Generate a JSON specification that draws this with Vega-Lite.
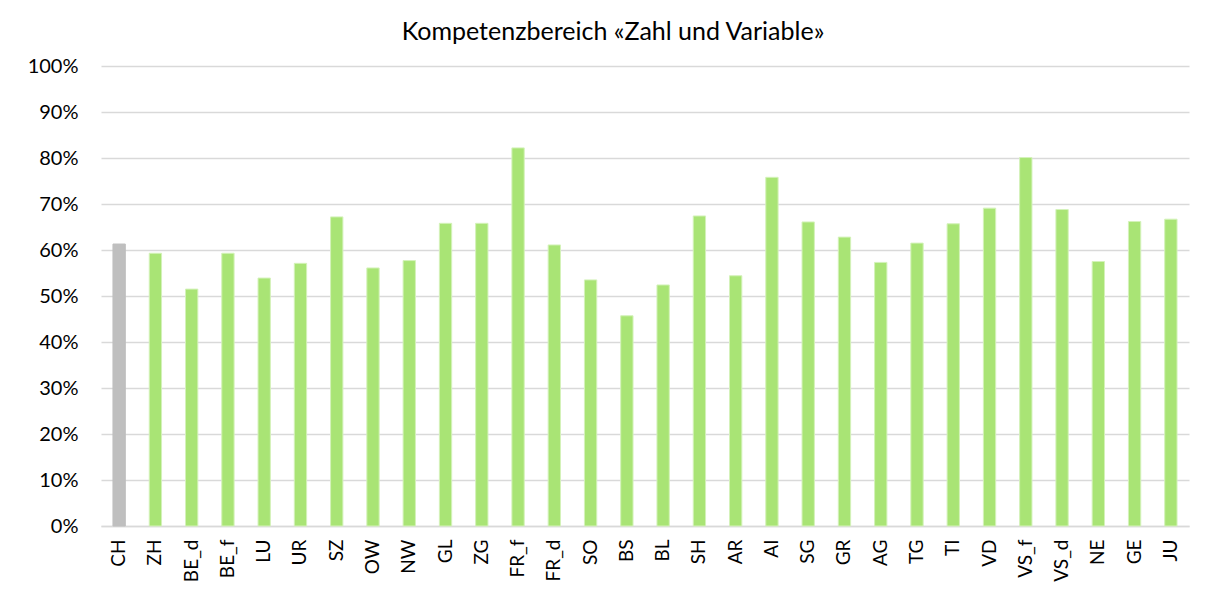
{
  "$schema": "https://vega.github.io/schema/vega-lite/v6.json",
  "width": 1088,
  "height": 460,
  "autosize": {"type": "none"},
  "padding": {"left": 101, "top": 66, "right": 25, "bottom": 79},
  "background": "white",
  "title": {
    "text": "Kompetenzbereich «Zahl und Variable»",
    "fontSize": 25,
    "fontWeight": "normal",
    "font": "Lato",
    "color": "#000000",
    "anchor": "middle",
    "dx": -32,
    "offset": 11
  },
  "data": {
    "values": [
      {"kanton": "CH", "wert": 0.613, "gruppe": "CH"},
      {"kanton": "ZH", "wert": 0.593, "gruppe": "Kanton"},
      {"kanton": "BE_d", "wert": 0.515, "gruppe": "Kanton"},
      {"kanton": "BE_f", "wert": 0.593, "gruppe": "Kanton"},
      {"kanton": "LU", "wert": 0.539, "gruppe": "Kanton"},
      {"kanton": "UR", "wert": 0.571, "gruppe": "Kanton"},
      {"kanton": "SZ", "wert": 0.672, "gruppe": "Kanton"},
      {"kanton": "OW", "wert": 0.561, "gruppe": "Kanton"},
      {"kanton": "NW", "wert": 0.577, "gruppe": "Kanton"},
      {"kanton": "GL", "wert": 0.658, "gruppe": "Kanton"},
      {"kanton": "ZG", "wert": 0.658, "gruppe": "Kanton"},
      {"kanton": "FR_f", "wert": 0.822, "gruppe": "Kanton"},
      {"kanton": "FR_d", "wert": 0.611, "gruppe": "Kanton"},
      {"kanton": "SO", "wert": 0.535, "gruppe": "Kanton"},
      {"kanton": "BS", "wert": 0.457, "gruppe": "Kanton"},
      {"kanton": "BL", "wert": 0.524, "gruppe": "Kanton"},
      {"kanton": "SH", "wert": 0.674, "gruppe": "Kanton"},
      {"kanton": "AR", "wert": 0.544, "gruppe": "Kanton"},
      {"kanton": "AI", "wert": 0.758, "gruppe": "Kanton"},
      {"kanton": "SG", "wert": 0.661, "gruppe": "Kanton"},
      {"kanton": "GR", "wert": 0.628, "gruppe": "Kanton"},
      {"kanton": "AG", "wert": 0.573, "gruppe": "Kanton"},
      {"kanton": "TG", "wert": 0.615, "gruppe": "Kanton"},
      {"kanton": "TI", "wert": 0.657, "gruppe": "Kanton"},
      {"kanton": "VD", "wert": 0.691, "gruppe": "Kanton"},
      {"kanton": "VS_f", "wert": 0.801, "gruppe": "Kanton"},
      {"kanton": "VS_d", "wert": 0.688, "gruppe": "Kanton"},
      {"kanton": "NE", "wert": 0.575, "gruppe": "Kanton"},
      {"kanton": "GE", "wert": 0.662, "gruppe": "Kanton"},
      {"kanton": "JU", "wert": 0.667, "gruppe": "Kanton"}
    ]
  },
  "mark": {"type": "bar", "strokeWidth": 1},
  "encoding": {
    "x": {
      "field": "kanton",
      "type": "nominal",
      "sort": null,
      "title": null,
      "scale": {"paddingInner": 0.66, "paddingOuter": 0.33},
      "axis": {
        "labelAngle": -90,
        "labelAlign": "right",
        "labelBaseline": "middle",
        "labelFontSize": 19,
        "labelFont": "Lato",
        "labelColor": "#000000",
        "labelPadding": 13,
        "ticks": false,
        "domainColor": "#d9d9d9",
        "domainWidth": 1.5,
        "grid": false
      }
    },
    "y": {
      "field": "wert",
      "type": "quantitative",
      "title": null,
      "scale": {"domain": [0, 1], "nice": false},
      "axis": {
        "format": ".0%",
        "values": [0, 0.1, 0.2, 0.3, 0.4, 0.5, 0.6, 0.7, 0.8, 0.9, 1],
        "labelFontSize": 20,
        "labelFont": "Lato",
        "labelColor": "#000000",
        "labelPadding": 23,
        "ticks": false,
        "domain": false,
        "gridColor": "#d9d9d9",
        "gridWidth": 1.5
      }
    },
    "color": {
      "field": "gruppe",
      "type": "nominal",
      "scale": {"domain": ["CH", "Kanton"], "range": ["#bfbfbf", "#a9e475"]},
      "legend": null
    },
    "stroke": {
      "field": "gruppe",
      "type": "nominal",
      "scale": {"domain": ["CH", "Kanton"], "range": ["#bfbfbf", "#d4f2ba"]},
      "legend": null
    }
  },
  "config": {"view": {"stroke": null}}
}
